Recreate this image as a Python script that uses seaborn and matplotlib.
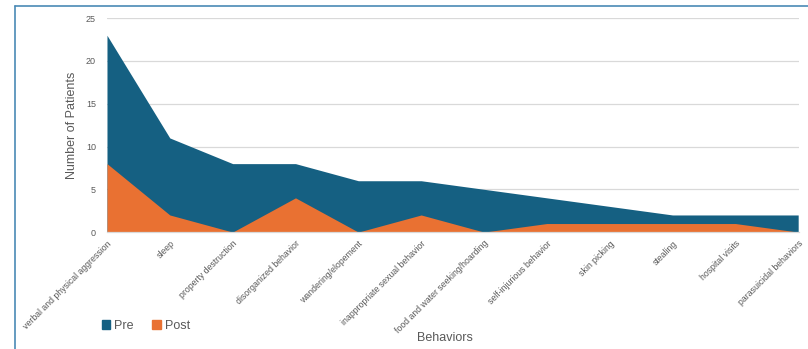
import matplotlib
matplotlib.use("Agg")
import matplotlib.pyplot as plt
import seaborn as sns
import pandas as pd
from matplotlib.lines import Line2D
from matplotlib.patches import Patch

behaviors = [
    "verbal and physical aggression", "sleep", "property destruction",
    "disorganized behavior", "wandering/elopement",
    "inappropriate sexual behavior", "food and water seeking/hoarding",
    "self-injurious behavior", "skin picking", "stealing",
    "hospital visits", "parasuicidal behaviors",
]
pre = [23, 11, 8, 8, 6, 6, 5, 4, 3, 2, 2, 2]
post = [8, 2, 0, 4, 0, 2, 0, 1, 1, 1, 1, 0]

PRE_C = "#156082"
POST_C = "#E97132"
TXT = "#595959"

df = pd.DataFrame({"idx": range(len(behaviors)), "Pre": pre, "Post": post})

sns.set_theme(style="white")
plt.rcParams["font.family"] = ["Liberation Sans", "DejaVu Sans"]

fig = plt.figure(figsize=(8.08, 3.49), dpi=100)
ax = fig.add_axes([0.1324, 0.335, 0.857, 0.613])

for col, c in [("Pre", PRE_C), ("Post", POST_C)]:
    sns.lineplot(data=df, x="idx", y=col, ax=ax, color=c, lw=0)
    ax.fill_between(df["idx"], df[col], color=c, lw=0)

ax.set_xlim(0, len(behaviors) - 1 + 0.02)
ax.set_ylim(0, 25)
ax.set_yticks(range(0, 26, 5))
ax.yaxis.grid(True, color="#d9d9d9", lw=0.9)
ax.set_axisbelow(True)
for s in ["top", "right", "left"]:
    ax.spines[s].set_visible(False)
ax.spines["bottom"].set_color("#d9d9d9")
ax.spines["bottom"].set_linewidth(0.9)

ax.set_xticks(range(len(behaviors)))
ax.set_xticklabels(behaviors, rotation=45, ha="right", rotation_mode="anchor",
                   fontsize=6.3, color=TXT)
ax.tick_params(axis="y", labelsize=6.5, labelcolor=TXT, length=0, pad=8)
ax.tick_params(axis="x", length=0, pad=5)

ax.set_ylabel("Number of Patients", fontsize=9, color=TXT, labelpad=6)
ax.set_xlabel("")
fig.text(0.551, 0.022, "Behaviors", fontsize=9, color=TXT, ha="center")

handles = [Patch(color=PRE_C, label="Pre"), Patch(color=POST_C, label="Post")]
fig.legend(handles=handles, loc="center left", bbox_to_anchor=(0.112, 0.066),
           ncol=2, frameon=False, fontsize=9, labelcolor=TXT,
           handlelength=0.65, handleheight=0.65, handletextpad=0.35,
           columnspacing=1.5)

# outer chart frame
fig.add_artist(Line2D([0.0186, 0.0186], [0, 0.983], color="#4a8ab5", lw=1.2,
                      transform=fig.transFigure))
fig.add_artist(Line2D([0.0186, 1.0], [0.983, 0.983], color="#4a8ab5", lw=1.2,
                      transform=fig.transFigure))

fig.savefig("out.png", dpi=100)
